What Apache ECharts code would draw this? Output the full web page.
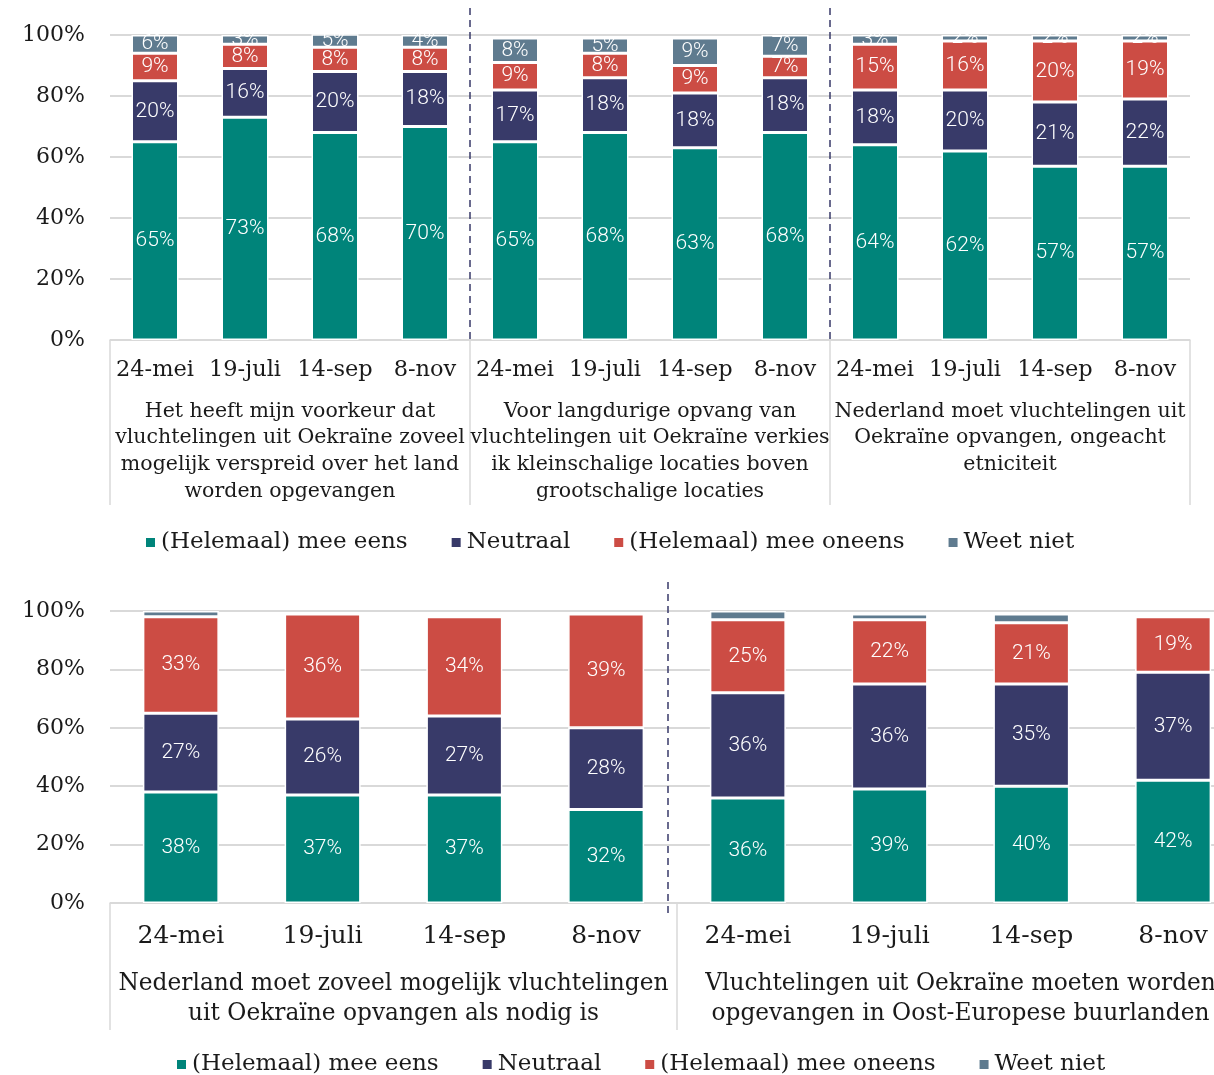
<!DOCTYPE html>
<html><head><meta charset="utf-8">
<script src="https://cdn.jsdelivr.net/npm/echarts@6/dist/echarts.min.js"></script>
<style>html,body{margin:0;padding:0;background:#fff}#c{width:1214px;height:1075px}</style>
</head><body><div id="c"></div>
<script>
const dates = ['24-mei', '19-juli', '14-sep', '8-nov'];
const topGroups = [
  'Het heeft mijn voorkeur dat\nvluchtelingen uit Oekraïne zoveel\nmogelijk verspreid over het land\nworden opgevangen',
  'Voor langdurige opvang van\nvluchtelingen uit Oekraïne verkies\nik kleinschalige locaties boven\ngrootschalige locaties',
  'Nederland moet vluchtelingen uit\nOekraïne opvangen, ongeacht\netniciteit'
];
const bottomGroups = [
  'Nederland moet zoveel mogelijk vluchtelingen\nuit Oekraïne opvangen als nodig is',
  'Vluchtelingen uit Oekraïne moeten worden\nopgevangen in Oost-Europese buurlanden'
];
const seriesNames = ['(Helemaal) mee eens', 'Neutraal', '(Helemaal) mee oneens', 'Weet niet'];
const colors = ['#00847A', '#383A69', '#CC4C44', '#5F7B8F'];

// Top chart values (per bar, 3 statements x 4 dates)
const topEens      = [65, 73, 68, 70,  65, 68, 63, 68,  64, 62, 57, 57];
const topNeutraal  = [20, 16, 20, 18,  17, 18, 18, 18,  18, 20, 21, 22];
const topOneens    = [ 9,  8,  8,  8,   9,  8,  9,  7,  15, 16, 20, 19];
const topWeetNiet  = [ 6,  3,  5,  4,   8,  5,  9,  7,   3,  2,  2,  2];

// Bottom chart values (2 statements x 4 dates)
const botEens      = [38, 37, 37, 32,  36, 39, 40, 42];
const botNeutraal  = [27, 26, 27, 28,  36, 36, 35, 37];
const botOneens    = [33, 36, 34, 39,  25, 22, 21, 19];
const botWeetNiet  = [ 2,  0,  1,  0,   3,  2,  3,  1];

const yMax = 100, yStep = 20;

const topCats = topGroups.flatMap((g, gi) => dates.map(d => d + '|' + gi));
const botCats = bottomGroups.flatMap((g, gi) => dates.map(d => d + '|' + gi));

const SERIF = 'DejaVu Serif';
const TXT = '#1a1a1a';
const GRID = '#d9d9d9';

function dateAxis(gridIndex, cats, fontSize, margin) {
  return {
    type: 'category', gridIndex, position: 'bottom', data: cats,
    axisLine: {show: true, lineStyle: {color: GRID, width: 1.5}},
    axisTick: {show: false},
    axisLabel: {interval: 0, margin, fontFamily: SERIF, fontSize, color: TXT,
      formatter: v => v.split('|')[0]},
    splitLine: {show: false}
  };
}
function groupAxis(gridIndex, groups, fontSize, margin, lineHeight, tickLen) {
  return {
    type: 'category', gridIndex, position: 'bottom', data: groups,
    axisLine: {show: false},
    axisTick: {show: true, interval: 0, length: tickLen, alignWithLabel: false,
      lineStyle: {color: GRID, width: 1.5}},
    axisLabel: {interval: 0, margin, fontFamily: SERIF, fontSize, color: TXT, lineHeight, align: 'center'},
    splitLine: {show: false}
  };
}
function yAxis(gridIndex) {
  return {
    type: 'value', gridIndex, min: 0, max: yMax, interval: yStep,
    axisLine: {show: false}, axisTick: {show: false},
    axisLabel: {formatter: '{value}%', fontFamily: SERIF, fontSize: 22, color: TXT, margin: 25},
    splitLine: {lineStyle: {color: GRID, width: 2}}
  };
}
function mkSeries(name, data, idx, xi, yi, stack, barWidth, showLabel) {
  return {
    name, type: 'bar', stack, xAxisIndex: xi, yAxisIndex: yi, data, barWidth,
    itemStyle: {color: colors[idx], borderColor: '#fff', borderWidth: 1.5},
    label: {show: showLabel, position: 'inside', color: '#fff', fontFamily: 'Roboto', fontWeight: 300, fontSize: 21,
      formatter: p => p.value ? p.value + '%' : ''},
    emphasis: {disabled: true}
  };
}
const topData = [topEens, topNeutraal, topOneens, topWeetNiet];
const botData = [botEens, botNeutraal, botOneens, botWeetNiet];

const legendBase = {
  data: seriesNames, icon: 'rect', itemWidth: 11, itemHeight: 11, itemGap: 42, selectedMode: false,
  textStyle: {fontFamily: SERIF, fontSize: 23, color: TXT}
};

const option = {
  animation: false,
  backgroundColor: '#fff',
  grid: [
    {left: 110, width: 1080, top: 35, height: 305, outerBoundsMode: 'none', containLabel: false},
    {left: 110, width: 1134, top: 611, height: 292, outerBoundsMode: 'none', containLabel: false}
  ],
  xAxis: [
    dateAxis(0, topCats, 22.5, 19),
    groupAxis(0, topGroups, 20.5, 58, 26.7, 165),
    dateAxis(1, botCats, 25, 21),
    groupAxis(1, bottomGroups, 23.3, 66, 30, 127)
  ],
  yAxis: [yAxis(0), yAxis(1)],
  legend: [
    Object.assign({}, legendBase, {top: 526, left: 139}),
    Object.assign({}, legendBase, {top: 1048, left: 170})
  ],
  series: [
    ...topData.map((d, i) => mkSeries(seriesNames[i], d, i, 0, 0, 'top', 47, true)),
    ...botData.map((d, i) => mkSeries(seriesNames[i], d, i, 2, 1, 'bot', 76, i < 3))
  ]
};

const chart = echarts.init(document.getElementById('c'), null, {renderer: 'canvas'});
chart.setOption(option);

function boundaryX(xAxisIndex, i) {
  const a = chart.convertToPixel({xAxisIndex}, i);
  const b = chart.convertToPixel({xAxisIndex}, i + 1);
  return (a + b) / 2;
}
const topZero = chart.convertToPixel({yAxisIndex: 0}, 0);
const botZero = chart.convertToPixel({yAxisIndex: 1}, 0);
const dash = {stroke: '#383A69', lineWidth: 1.5, lineDash: [7, 5]};
const graphics = [];
[3, 7].forEach(i => {
  const x = boundaryX(0, i);
  graphics.push({type: 'line', shape: {x1: x, y1: 8, x2: x, y2: topZero}, style: dash, z: 10});
});
{
  const x = boundaryX(2, 3) - 9;
  graphics.push({type: 'line', shape: {x1: x, y1: 582, x2: x, y2: botZero + 12}, style: dash, z: 10});
}
chart.setOption({graphic: graphics});
</script>
</body></html>
